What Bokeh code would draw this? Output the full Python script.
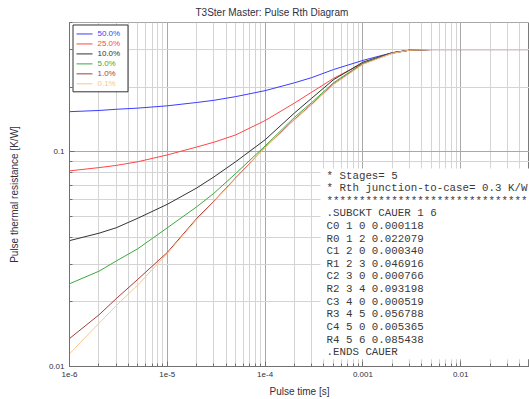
from bokeh.plotting import figure
from bokeh.models import Range1d, FixedTicker, Label, LinearScale
from bokeh.embed import file_html
from bokeh.resources import INLINE

# ---------------- data ----------------
pulse_time = [1e-6, 2e-6, 3e-6, 5e-6, 1e-5, 2e-5, 3e-5, 5e-5, 1e-4, 2e-4, 3e-4,
              5e-4, 1e-3, 2e-3, 3e-3, 5e-3, 1e-2, 5e-2]
z_50 = [0.154, 0.156, 0.158, 0.160, 0.164, 0.170, 0.174, 0.181, 0.193, 0.210, 0.222,
        0.242, 0.267, 0.290, 0.298, 0.300, 0.300, 0.300]
z_25 = [0.0816, 0.0845, 0.0865, 0.0900, 0.0968, 0.1054, 0.111, 0.120, 0.140, 0.169, 0.190,
        0.220, 0.259, 0.288, 0.298, 0.300, 0.300, 0.300]
z_10 = [0.0386, 0.0418, 0.0443, 0.0491, 0.0570, 0.0679, 0.0765, 0.0900, 0.1139, 0.152, 0.178,
        0.217, 0.262, 0.290, 0.298, 0.300, 0.300, 0.300]
z_5 = [0.0243, 0.0278, 0.0310, 0.0354, 0.0443, 0.0555, 0.0642, 0.0793, 0.1066, 0.145, 0.170,
       0.210, 0.259, 0.289, 0.298, 0.300, 0.300, 0.300]
z_1 = [0.0135, 0.0174, 0.0207, 0.0255, 0.0340, 0.0490, 0.0590, 0.0757, 0.1050, 0.142, 0.167,
       0.207, 0.257, 0.289, 0.298, 0.300, 0.300, 0.300]
z_01 = [0.01146, 0.0159, 0.0192, 0.0240, 0.0336, 0.0484, 0.0586, 0.0752, 0.1047, 0.141, 0.166,
        0.206, 0.256, 0.288, 0.298, 0.300, 0.300, 0.300]

series_values = [z_50, z_25, z_10, z_5, z_1, z_01]
series_labels = ["50.0%", "25.0%", "10.0%", "5.0%", "1.0%", "0.1%"]
series_colors = ["#3c3cff", "#ff4646", "#333333", "#3aaa3a", "#a83c3c", "#ffc48c"]

x_major = [1e-6, 1e-5, 1e-4, 1e-3, 1e-2, 1e-1]
x_labels = ["1e-6", "1e-5", "1e-4", "0.001", "0.01", "0.1"]
y_major = [0.01, 0.1, 1.0]
y_labels = ["0.01", "0.1", "1"]

netlist = [
    "* Stages= 5",
    "* Rth junction-to-case= 0.3 K/W",
    "*******************************",
    ".SUBCKT CAUER 1 6",
    "C0 1 0 0.000118",
    "R0 1 2 0.022079",
    "C1 2 0 0.000340",
    "R1 2 3 0.046916",
    "C2 3 0 0.000766",
    "R2 3 4 0.093198",
    "C3 4 0 0.000519",
    "R3 4 5 0.056788",
    "C4 5 0 0.005365",
    "R4 5 6 0.085438",
    ".ENDS CAUER",
]

title_text = "T3Ster Master: Pulse Rth Diagram"
x_title = "Pulse time [s]"
y_title = "Pulse thermal resistance [K/W]"

# ---------------- figure ----------------
SANS = "Liberation Sans"
TXT = "#303040"
W, H = 529, 399
FRAME_W, FRAME_H = 460, 345

p = figure(width=W, height=H, x_axis_type="log", y_axis_type="log",
           x_range=Range1d(1e-6, 10 ** -1.2965), y_range=Range1d(0.01, 0.401),
           output_backend="svg", toolbar_location=None,
           min_border_left=69, min_border_right=0, min_border_top=21, min_border_bottom=33)
# linear pixel ranges of the frame, used only to place the legend decoration
p.extra_x_ranges = {"px": Range1d(0, FRAME_W)}
p.extra_y_ranges = {"px": Range1d(0, FRAME_H)}
p.extra_x_scales = {"px": LinearScale()}
p.extra_y_scales = {"px": LinearScale()}
p.background_fill_color = "white"
p.border_fill_color = "white"
p.outline_line_color = "#7a7a7a"

p.title.text = title_text
p.title.align = "left"
p.title.offset = 126
p.title.text_font = SANS
p.title.text_font_size = "10px"
p.title.text_font_style = "normal"
p.title.text_color = TXT
p.title.standoff = 9

x_minor = [k * 10.0 ** e for e in range(-6, 0) for k in range(2, 10)]
y_minor = [k * 10.0 ** e for e in range(-2, 0) for k in range(2, 10)]
p.xaxis.ticker = FixedTicker(ticks=x_major, minor_ticks=x_minor)
p.yaxis.ticker = FixedTicker(ticks=y_major, minor_ticks=y_minor)
p.xaxis.major_label_overrides = {v: s for v, s in zip(x_major, x_labels)}
p.yaxis.major_label_overrides = {v: s for v, s in zip(y_major, y_labels)}

for ax in (p.xaxis, p.yaxis):
    ax.axis_line_color = "#707070"
    ax.major_tick_in = 5
    ax.major_tick_out = 0
    ax.minor_tick_in = 3
    ax.minor_tick_out = 0
    ax.major_tick_line_color = "#707070"
    ax.minor_tick_line_color = "#707070"
    ax.major_label_text_font = SANS
    ax.major_label_text_font_size = "8px"
    ax.major_label_text_color = TXT
    ax.major_label_standoff = 5
    ax.axis_label_text_font = SANS
    ax.axis_label_text_font_size = "10px"
    ax.axis_label_text_font_style = "normal"
    ax.axis_label_text_color = TXT

p.xaxis.axis_label = x_title
p.xaxis.axis_label_standoff = 6
p.yaxis.axis_label = y_title
p.yaxis.axis_label_standoff = 26

p.grid.grid_line_color = "#a8a8a8"
p.grid.minor_grid_line_color = "#d4d4d4"

for vals, col in zip(series_values, series_colors):
    p.line(pulse_time, vals, line_color=col, line_width=1)

# legend: white box with border, coloured sample lines, coloured labels
p.quad(left=3.5, right=58.5, top=342.5, bottom=275.5, x_range_name="px", y_range_name="px",
       fill_color="white", fill_alpha=1.0, line_color="#333333", line_width=1)
for k, (lab, col) in enumerate(zip(series_labels, series_colors)):
    yc = 333.5 - 10 * k
    p.segment(x0=7, y0=yc, x1=23, y1=yc, x_range_name="px", y_range_name="px",
              line_color=col, line_width=1)
    p.add_layout(Label(x=28, y=yc, x_units="screen", y_units="screen", text=lab,
                       text_font=SANS, text_font_size="8px", text_color=col,
                       text_align="left", text_baseline="middle"))

# netlist box
p.add_layout(Label(x=251, y=198, x_units="screen", y_units="screen",
                   text="\n".join(netlist), text_font="Liberation Mono", text_font_size="10.8px",
                   text_color="#3a3a3a", text_align="left", text_baseline="top",
                   text_line_height=1.052, background_fill_color="white",
                   background_fill_alpha=1.0,
                   padding=dict(left=6, right=6, top=1, bottom=1)))

open("out.html", "w").write(file_html(p, INLINE))
